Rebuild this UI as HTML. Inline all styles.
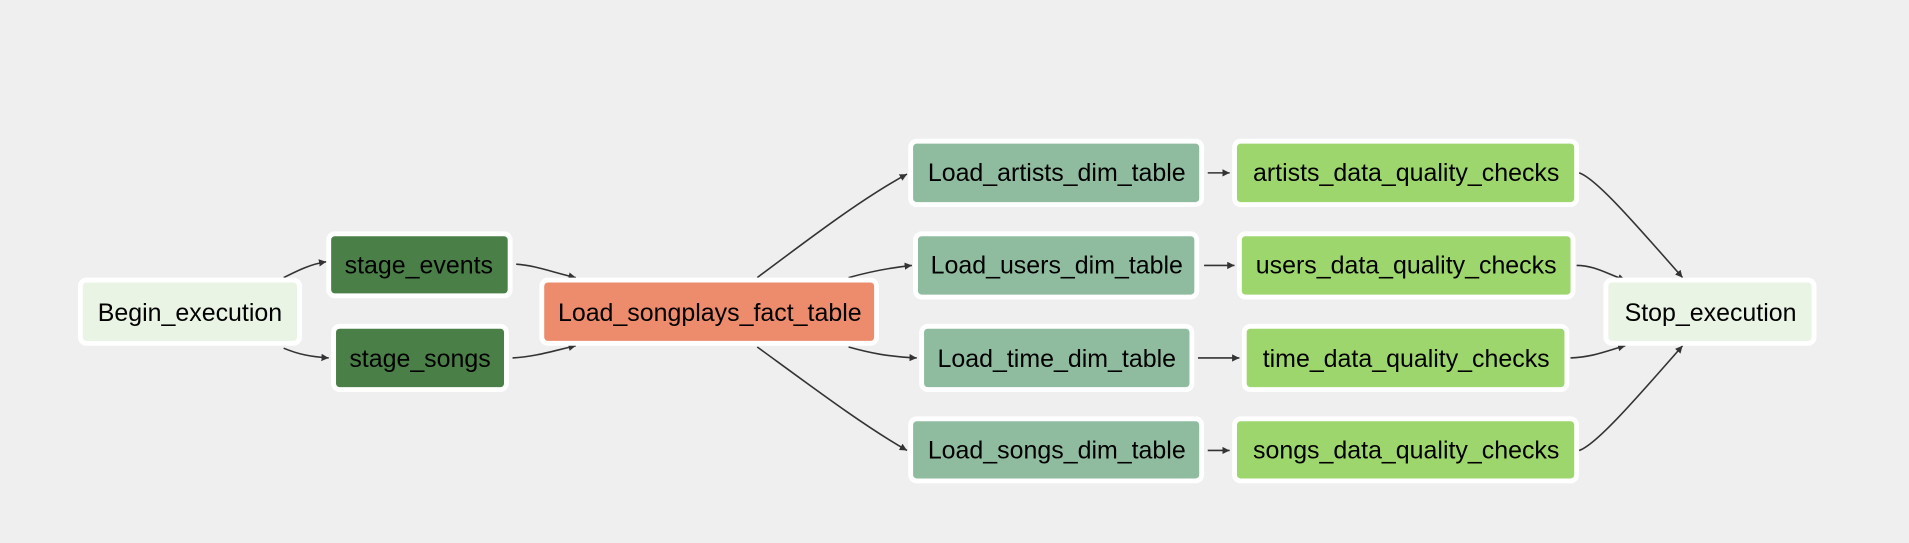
<!DOCTYPE html>
<html><head><meta charset="utf-8"><style>
html,body{margin:0;padding:0;background:#efefef;}
svg{display:block}
text{font-family:"Liberation Sans",Arial,sans-serif;font-size:20.5px;fill:#000;text-anchor:middle;dominant-baseline:central}
.e{fill:none;stroke:#333;stroke-width:1.3}
</style></head><body>
<svg width="1909" height="543" viewBox="0 0 1568 446" xmlns="http://www.w3.org/2000/svg">
<defs><marker id="a" markerWidth="8" markerHeight="8" refX="6" refY="3" orient="auto" markerUnits="userSpaceOnUse"><path d="M0,0 L6,3 L0,6 z" fill="#333"/></marker></defs>
<rect width="1568" height="446" fill="#efefef"/>
<g class="e" marker-end="url(#a)">
<path d="M233,228 C245,222 255,217 268,215"/>
<path d="M233,286 C245,291 255,293 270,294"/>
<path d="M424,217 C440,218 455,224 473,228"/>
<path d="M421,294 C440,293 455,288 473,284"/>
<path d="M622,228 C670,192 710,162 745,143"/>
<path d="M697,228 C715,223 730,220 749,218"/>
<path d="M697,285 C715,290 730,293 753,294"/>
<path d="M622,285 C670,320 710,350 745,370"/>
<path d="M992,142 L1010,142"/>
<path d="M989,218 L1014,218"/>
<path d="M984,294 L1018,294"/>
<path d="M992,370 L1010,370"/>
<path d="M1297,142 C1310,146 1340,180 1382,228"/>
<path d="M1295,218 C1310,218 1320,225 1335,230"/>
<path d="M1290,294 C1310,293 1320,288 1335,284"/>
<path d="M1297,370 C1310,366 1340,332 1382,284"/>
</g>
<g stroke="#fff" stroke-width="4">
<rect x="66" y="230" width="180" height="52" rx="5" fill="#eaf4e4"/>
<rect x="270" y="192" width="149" height="51" rx="5" fill="#4a7f47"/>
<rect x="274" y="268" width="142" height="52" rx="5" fill="#4a7f47"/>
<rect x="445" y="230" width="275" height="52" rx="5" fill="#ed8b6d"/>
<rect x="748" y="116" width="239" height="52" rx="5" fill="#8fbb9f"/>
<rect x="752" y="192" width="231" height="52" rx="5" fill="#8fbb9f"/>
<rect x="757" y="268" width="222" height="52" rx="5" fill="#8fbb9f"/>
<rect x="748" y="344" width="239" height="51" rx="5" fill="#8fbb9f"/>
<rect x="1014" y="116" width="281" height="52" rx="5" fill="#9dd66d"/>
<rect x="1018" y="192" width="274" height="52" rx="5" fill="#9dd66d"/>
<rect x="1022" y="268" width="265" height="52" rx="5" fill="#9dd66d"/>
<rect x="1014" y="344" width="281" height="51" rx="5" fill="#9dd66d"/>
<rect x="1319" y="230" width="171" height="52" rx="5" fill="#eaf4e4"/>
</g>
<text x="156" y="257">Begin_execution</text>
<text x="344" y="218">stage_events</text>
<text x="345" y="295">stage_songs</text>
<text x="583" y="257">Load_songplays_fact_table</text>
<text x="868" y="142">Load_artists_dim_table</text>
<text x="868" y="218">Load_users_dim_table</text>
<text x="868" y="295">Load_time_dim_table</text>
<text x="868" y="370">Load_songs_dim_table</text>
<text x="1155" y="142">artists_data_quality_checks</text>
<text x="1155" y="218">users_data_quality_checks</text>
<text x="1155" y="295">time_data_quality_checks</text>
<text x="1155" y="370">songs_data_quality_checks</text>
<text x="1405" y="257">Stop_execution</text>
</svg>
</body></html>
